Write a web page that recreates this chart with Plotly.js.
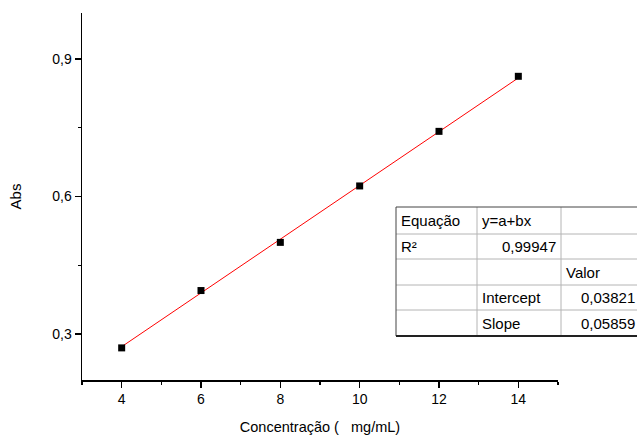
<!DOCTYPE html>
<html>
<head>
<meta charset="utf-8">
<script src="https://cdn.plot.ly/plotly-3.0.1.min.js"></script>
<style>html,body{margin:0;padding:0;background:#fff;}#chart{width:637px;height:435px;}</style>
</head>
<body>
<div id="chart"></div>
<script>
// Data
var concentration = [4, 6, 8, 10, 12, 14];
var absorbance = [0.270, 0.395, 0.500, 0.623, 0.742, 0.862];
var fitX = [4, 14];
var fitY = [0.2726, 0.8585];
var tableCells = [
  ["Equação", "y=a+bx", ""],
  ["R²", "0,99947", ""],
  ["", "", "Valor"],
  ["", "Intercept", "0,03821"],
  ["", "Slope", "0,05859"]
];
// alignment for each cell: l = left, r = right
var tableAlign = [
  ["l", "l", "l"],
  ["l", "r", "l"],
  ["l", "l", "l"],
  ["l", "l", "r"],
  ["l", "l", "r"]
];

// plot-area pixel geometry
var W = 637, H = 435, L = 82, R = 79, T = 13, B = 55;
var pw = W - L - R, ph = H - T - B;
function px(x) { return (x - L) / pw; }
function py(y) { return (H - B - y) / ph; }

var colEdges = [396, 477, 561, 640];
var rowEdges = [207, 234, 259, 285, 310, 336];

var shapes = [];
var annotations = [];
var font = {family: "Liberation Sans, Arial, sans-serif", size: 15, color: "#000"};

// inner grid lines (light gray)
for (var i = 1; i < rowEdges.length - 1; i++) {
  shapes.push({type: "line", xref: "paper", yref: "paper", x0: px(colEdges[0]), x1: px(colEdges[3]),
    y0: py(rowEdges[i]), y1: py(rowEdges[i]), line: {color: "#b4b4b4", width: 1}});
}
for (var j = 1; j < colEdges.length - 1; j++) {
  shapes.push({type: "line", xref: "paper", yref: "paper", x0: px(colEdges[j]), x1: px(colEdges[j]),
    y0: py(rowEdges[0]), y1: py(rowEdges[rowEdges.length - 1]), line: {color: "#b4b4b4", width: 1}});
}
// outer border
shapes.push({type: "line", xref: "paper", yref: "paper", x0: px(colEdges[0]), x1: px(colEdges[3]),
  y0: py(rowEdges[0]), y1: py(rowEdges[0]), line: {color: "#444", width: 1}});
shapes.push({type: "line", xref: "paper", yref: "paper", x0: px(colEdges[0]), x1: px(colEdges[0]),
  y0: py(rowEdges[0]), y1: py(rowEdges[5]), line: {color: "#444", width: 1}});
shapes.push({type: "line", xref: "paper", yref: "paper", x0: px(colEdges[0]), x1: px(colEdges[3]),
  y0: py(rowEdges[5]), y1: py(rowEdges[5]), line: {color: "#222", width: 2}});

for (var r = 0; r < tableCells.length; r++) {
  for (var c = 0; c < 3; c++) {
    var t = tableCells[r][c];
    if (!t) continue;
    var al = tableAlign[r][c];
    var xx = al === "l" ? colEdges[c] + 3 : colEdges[c + 1] - 3;
    if (c === 2 && al === "r") xx = 637;
    annotations.push({xref: "paper", yref: "paper", x: px(xx), y: py((rowEdges[r] + rowEdges[r + 1]) / 2),
      text: t, showarrow: false, xanchor: al === "l" ? "left" : "right", yanchor: "middle", font: font});
  }
}

var traces = [
  {x: fitX, y: fitY, mode: "lines", line: {color: "#ff0000", width: 1}, hoverinfo: "skip"},
  {x: concentration, y: absorbance, mode: "markers", marker: {symbol: "square", size: 7, color: "#000"}}
];

var layout = {
  width: W, height: H,
  margin: {l: L, r: R, t: T, b: B},
  paper_bgcolor: "#fff", plot_bgcolor: "#fff",
  showlegend: false,
  separators: ",.",
  font: {family: "Liberation Sans, Arial, sans-serif", size: 14, color: "#000"},
  xaxis: {
    range: [3, 15], tick0: 4, dtick: 2, showgrid: false, zeroline: false,
    showline: true, linecolor: "#000", linewidth: 1.5,
    ticks: "outside", ticklen: 6, tickwidth: 1.5, tickcolor: "#000",
    tickfont: {size: 14},
    minor: {ticks: "outside", ticklen: 3, tickwidth: 1.5, tickcolor: "#000", dtick: 1, tick0: 3},
    title: {text: "Concentração (   mg/mL)", font: {size: 14.5}, standoff: 17}
  },
  yaxis: {
    range: [0.2, 1.0], tick0: 0.3, dtick: 0.3, tickformat: ".1f", showgrid: false, zeroline: false,
    showline: true, linecolor: "#000", linewidth: 1.5,
    ticks: "outside", ticklen: 6, tickwidth: 1.5, tickcolor: "#000",
    tickfont: {size: 14},
    minor: {ticks: "outside", ticklen: 3, tickwidth: 1.5, tickcolor: "#000", dtick: 0.15, tick0: 0.3},
    title: {text: "Abs", font: {size: 15}, standoff: 27}
  },
  shapes: shapes,
  annotations: annotations
};

Plotly.newPlot("chart", traces, layout, {staticPlot: true, displayModeBar: false});
</script>
</body>
</html>
